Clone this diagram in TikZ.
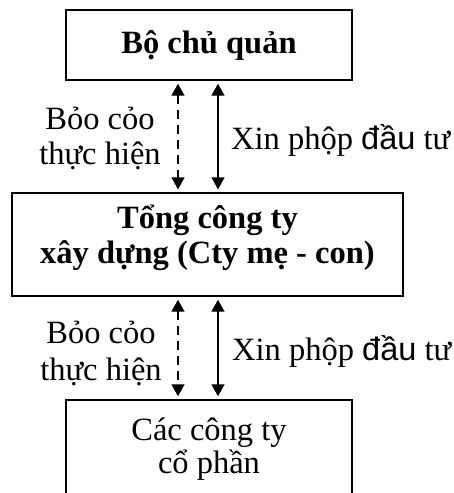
\documentclass[tikz,border=0pt]{standalone}
\usepackage{fontspec}
\setmainfont{Liberation Serif}
\newfontfamily\arialf{Liberation Sans}
\usetikzlibrary{arrows.meta}
\begin{document}
\begin{tikzpicture}[x=1pt,y=-1pt,
  every node/.style={font=\fontsize{32.5}{35}\selectfont},
  boxnode/.style={draw, line width=2.4pt, inner sep=2pt, align=center},
  arr/.style={line width=1.4pt, {Triangle[width=13pt,length=12pt]}-{Triangle[width=13pt,length=12pt]}, shorten <=2.5pt, shorten >=2.5pt},
  dsh/.style={dash pattern=on 9pt off 6pt}]
\useasboundingbox (0,0) rectangle (453,493);
\node[boxnode, minimum width=286pt, minimum height=70pt, text height=25pt, text depth=9pt, font=\fontsize{32.5}{35}\selectfont\bfseries] (top) at (209,45) {Bộ chủ quản};
\node[boxnode, minimum width=391pt, minimum height=103pt, text height=60pt, text depth=23pt, font=\fontsize{32.5}{35}\selectfont\bfseries] (mid) at (207.5,244.5) {Tổng công ty\\xây dựng (Cty mẹ - con)};
\node[boxnode, minimum width=286pt, minimum height=94pt, text height=58pt, text depth=6pt, font=\fontsize{32.5}{33}\selectfont] (bot) at (209,447) {Các công ty\\cổ phần};
\coordinate (xl) at (178,0);
\coordinate (xr) at (218,0);
\draw[arr, dsh] (top.south -| xl) -- (mid.north -| xl);
\draw[arr] (top.south -| xr) -- (mid.north -| xr);
\draw[arr, dsh] (mid.south -| xl) -- (bot.north -| xl);
\draw[arr] (mid.south -| xr) -- (bot.north -| xr);
\node[align=center, anchor=base, inner sep=0pt] (l1) at (100,164) {Bỏo cỏo\\[0pt]thực hiện};
\node[anchor=base west, inner sep=0pt] (r1) at (231,149) {Xin phộp {\arialf đầu} tư};
\node[align=center, anchor=base, inner sep=0pt] (l2) at (101,380) {Bỏo cỏo\\[2pt]thực hiện};
\node[anchor=base west, inner sep=0pt] (r2) at (232,360) {Xin phộp {\arialf đầu} tư};
\end{tikzpicture}
\end{document}
